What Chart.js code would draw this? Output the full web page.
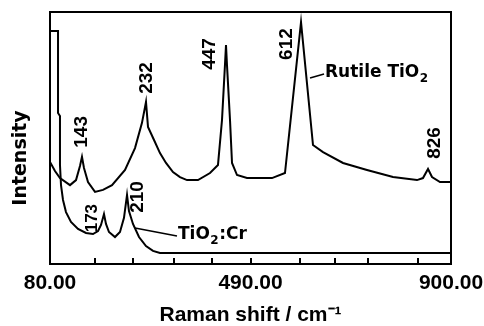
<!DOCTYPE html>
<html><head><meta charset="utf-8">
<script src="https://cdn.jsdelivr.net/npm/chart.js@4"></script>
<style>html,body{margin:0;padding:0;background:#fff;}</style>
</head><body>
<canvas id="c" width="484" height="326"></canvas>
<script>
// ---- data (Raman shift in cm^-1, intensity in arbitrary units) ----
const rutileShift = [80.0, 90.2, 100.4, 120.9, 133.2, 141.3, 145.4, 149.5, 157.7, 172.0, 188.4, 206.8, 233.4, 253.8, 268.1, 276.3, 280.4, 292.7, 304.9, 317.2, 331.5, 345.8, 360.2, 382.6, 407.2, 423.5, 431.7, 437.8, 439.9, 441.9, 448.1, 452.2, 462.4, 482.8, 533.9, 560.5, 593.3, 617.8, 638.3, 679.2, 728.2, 781.4, 830.5, 842.7, 853.0, 861.2, 877.5, 900.0];
const rutileIntensity = [40.5, 36.9, 34.1, 31.3, 33.3, 38.9, 42.5, 38.1, 32.5, 28.6, 29.4, 31.3, 37.3, 46.0, 56.0, 64.3, 54.4, 49.2, 44.0, 40.1, 36.5, 34.5, 33.3, 33.3, 36.1, 39.3, 57.1, 79.0, 86.9, 79.0, 57.1, 40.1, 35.3, 34.1, 34.1, 36.1, 96.0, 47.2, 44.4, 40.1, 37.3, 34.5, 33.3, 34.1, 37.7, 34.5, 32.5, 32.5];
const crShift = [80.0, 96.4, 96.4, 100.4, 100.4, 102.5, 106.6, 112.7, 122.9, 137.3, 153.6, 167.9, 178.2, 184.3, 190.4, 194.5, 200.6, 212.9, 223.1, 231.3, 237.5, 241.5, 249.7, 262.0, 276.3, 290.6, 304.9, 335.6, 900.0];
const crIntensity = [92.5, 92.5, 59.9, 58.7, 39.3, 31.3, 25.4, 20.6, 16.7, 13.9, 12.3, 11.9, 13.1, 15.5, 19.8, 15.9, 12.7, 10.7, 12.7, 18.3, 27.4, 21.0, 15.9, 10.7, 7.1, 5.2, 4.4, 4.4, 4.4];
const xTickValues = [80, 172, 250, 334, 411, 490, 591, 663, 730, 832, 900];
const xLabelledTicks = [80, 490, 900];
const xTitle = 'Raman shift / cm\u207B\u00B9';
const yTitle = 'Intensity';
const peakLabels = ['143', '232', '447', '612', '826', '173', '210'];
const peakShift = [145.4, 276.3, 439.9, 593.3, 853.0, 190.4, 237.5];
const peakIntensity = [42.5, 64.3, 86.9, 96.0, 37.7, 19.8, 27.4];
const seriesNames = ['Rutile TiO\u2082', 'TiO\u2082:Cr'];
const seriesLabelShift = [611.7, 253.8];
const seriesLabelIntensity = [73.8, 14.3];

// ---- layout / styling ----
const peakOffsets = [[0,-25],[1,-24],[-16,9],[-14,22],[7,-26],[-12,4],[11,2]];
const peakFontSize = [19,19,19,19,19,17,19];
const seriesLeader = [[14,-4],[42,8]];

function drawWithSub(ctx, text, x, y, size) {
  const parts = text.split('\u2082');
  let cx = x;
  ctx.font = 'bold ' + size + 'px "DejaVu Sans"';
  ctx.fillText(parts[0], cx, y);
  cx += ctx.measureText(parts[0]).width;
  if (parts.length > 1) {
    ctx.font = 'bold ' + Math.round(size * 0.72) + 'px "DejaVu Sans"';
    ctx.fillText('2', cx + 0.5, y + 6);
    cx += ctx.measureText('2').width + 1;
    ctx.font = 'bold ' + size + 'px "DejaVu Sans"';
    ctx.fillText(parts[1], cx, y);
  }
}

const annot = {
  id: 'annot',
  afterDatasetsDraw(chart) {
    const {ctx, chartArea: a, scales: {x, y}} = chart;
    ctx.save();
    ctx.strokeStyle = '#000';
    ctx.lineWidth = 2;
    ctx.strokeRect(a.left, a.top, a.right - a.left, a.bottom - a.top);
    // inward tick marks
    ctx.beginPath();
    xTickValues.forEach(v => {
      const px = Math.round(x.getPixelForValue(v));
      ctx.moveTo(px, a.bottom); ctx.lineTo(px, a.bottom - 6);
    });
    ctx.stroke();
    // y title
    ctx.fillStyle = '#000';
    ctx.textAlign = 'center';
    ctx.textBaseline = 'middle';
    ctx.save();
    ctx.translate(21, 158);
    ctx.rotate(-Math.PI / 2);
    ctx.font = 'bold 19px "DejaVu Sans"';
    ctx.fillText(yTitle, 0, 0);
    ctx.restore();
    // peak labels
    peakLabels.forEach((t, i) => {
      const px = x.getPixelForValue(peakShift[i]) + peakOffsets[i][0];
      const py = y.getPixelForValue(peakIntensity[i]) + peakOffsets[i][1];
      ctx.save();
      ctx.translate(px, py);
      ctx.rotate(-Math.PI / 2);
      ctx.font = 'bold ' + peakFontSize[i] + 'px "Liberation Sans"';
      ctx.fillText(t, 0, 0);
      ctx.restore();
    });
    // series labels with leaders
    ctx.lineWidth = 1.6;
    ctx.textAlign = 'left';
    seriesNames.forEach((t, i) => {
      const sx = x.getPixelForValue(seriesLabelShift[i]);
      const sy = y.getPixelForValue(seriesLabelIntensity[i]);
      const ex = sx + seriesLeader[i][0], ey = sy + seriesLeader[i][1];
      ctx.beginPath(); ctx.moveTo(sx, sy); ctx.lineTo(ex, ey); ctx.stroke();
      drawWithSub(ctx, t, ex + 1, ey - 1, 17);
    });
    ctx.restore();
  }
};

const toPts = (xs, ys) => xs.map((v, i) => ({x: v, y: ys[i]}));

new Chart(document.getElementById('c'), {
  type: 'line',
  data: {
    datasets: [
      {label: seriesNames[0], data: toPts(rutileShift, rutileIntensity), borderColor: '#000', borderWidth: 2, pointRadius: 0, tension: 0, fill: false},
      {label: seriesNames[1], data: toPts(crShift, crIntensity), borderColor: '#000', borderWidth: 2, pointRadius: 0, tension: 0, fill: false}
    ]
  },
  options: {
    responsive: false,
    animation: false,
    devicePixelRatio: 1,
    layout: {padding: {left: 0, top: 12, right: 33, bottom: 0}},
    plugins: {legend: {display: false}, tooltip: {enabled: false}},
    scales: {
      x: {
        type: 'linear', min: 80, max: 900,
        afterFit(s) { s.height = 62; s.paddingLeft = 0; s.paddingRight = 0; },
        afterBuildTicks(s) { s.ticks = xTickValues.map(v => ({value: v})); },
        ticks: {
          autoSkip: false, maxRotation: 0, color: '#000', padding: 7,
          font: {family: '"Liberation Sans"', size: 21, weight: 'bold'},
          callback: v => xLabelledTicks.includes(v) ? v.toFixed(2) : ''
        },
        grid: {drawOnChartArea: false, drawTicks: false},
        border: {display: false},
        title: {display: true, text: xTitle, color: '#000',
          font: {family: '"Liberation Sans"', size: 21, weight: 'bold', lineHeight: 1},
          padding: {top: 0, bottom: 0}}
      },
      y: {
        min: 0, max: 100,
        afterFit(s) { s.width = 50; s.paddingTop = 0; s.paddingBottom = 0; },
        ticks: {display: false},
        grid: {drawOnChartArea: false, drawTicks: false},
        border: {display: false},
        title: {display: false, text: yTitle}
      }
    }
  },
  plugins: [annot]
});
</script>
</body></html>
